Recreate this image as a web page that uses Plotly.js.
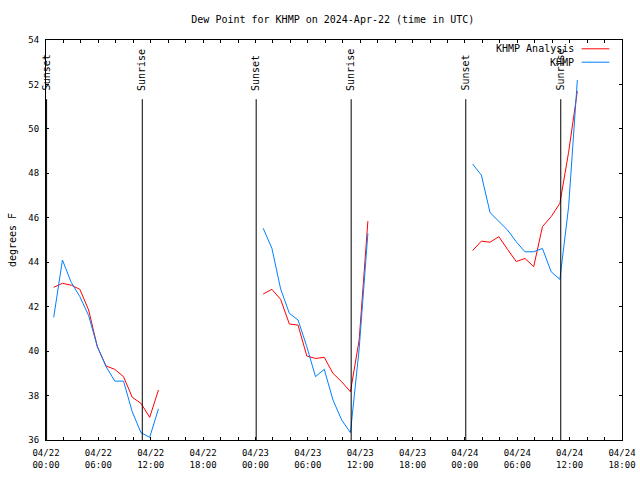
<!DOCTYPE html>
<html>
<head>
<meta charset="utf-8">
<script src="https://cdn.plot.ly/plotly-3.0.1.min.js"></script>
<style>html,body{margin:0;padding:0;background:#fff;}#chart{width:640px;height:480px;}</style>
</head>
<body>
<div id="chart"></div>
<script>
// Observation times (UTC); null entries break the lines between days
var times = [
  '2024-04-22 00:53','2024-04-22 01:53','2024-04-22 02:53','2024-04-22 03:53','2024-04-22 04:53',
  '2024-04-22 05:53','2024-04-22 06:53','2024-04-22 07:53','2024-04-22 08:53','2024-04-22 09:53',
  '2024-04-22 10:53','2024-04-22 11:53','2024-04-22 12:53',
  '2024-04-22 18:00',
  '2024-04-23 00:53','2024-04-23 01:53','2024-04-23 02:53','2024-04-23 03:53','2024-04-23 04:53',
  '2024-04-23 05:53','2024-04-23 06:53','2024-04-23 07:53','2024-04-23 08:53','2024-04-23 09:53',
  '2024-04-23 10:53','2024-04-23 11:53','2024-04-23 12:53',
  '2024-04-23 18:00',
  '2024-04-24 00:53','2024-04-24 01:53','2024-04-24 02:53','2024-04-24 03:53','2024-04-24 04:53',
  '2024-04-24 05:53','2024-04-24 06:53','2024-04-24 07:53','2024-04-24 08:53','2024-04-24 09:53',
  '2024-04-24 10:53','2024-04-24 11:53','2024-04-24 12:53'
];
var analysisDewpt = [
  42.87, 43.05, 42.97, 42.78, 41.85, 40.2, 39.33, 39.18, 38.85, 37.92, 37.65, 37.02, 38.25,
  null,
  42.57, 42.78, 42.33, 41.22, 41.17, 39.78, 39.67, 39.72, 39.0, 38.62, 38.17, 40.5, 45.85,
  null,
  44.52, 44.95, 44.9, 45.15, 44.58, 44.03, 44.17, 43.8, 45.6, 46.05, 46.65, 48.95, 51.7
];
var obsDewpt = [
  41.52, 44.1, 43.1, 42.45, 41.6, 40.2, 39.3, 38.65, 38.65, 37.27, 36.33, 36.12, 37.4,
  null,
  45.53, 44.63, 42.8, 41.7, 41.4, 40.2, 38.85, 39.18, 37.8, 36.9, 36.33, 40.1, 45.3,
  null,
  48.42, 47.92, 46.23, 45.83, 45.45, 44.92, 44.47, 44.47, 44.62, 43.57, 43.23, 46.5, 52.2
];
var seriesNames = ['KHMP Analysis', 'KHMP'];
var sunEvents = ['2024-04-22 00:04','2024-04-22 11:02','2024-04-23 00:05','2024-04-23 10:58','2024-04-24 00:06','2024-04-24 10:59'];
var sunLabels = ['Sunset','Sunrise','Sunset','Sunrise','Sunset','Sunrise'];

var FONT = 'DejaVu Sans Mono, Liberation Mono, monospace';
var RED = '#ff0000', BLUE = 'rgb(0,128,255)';

var traces = [
  {x: times, y: analysisDewpt, name: seriesNames[0], type: 'scatter', mode: 'lines',
   line: {color: RED, width: 1}, connectgaps: false, showlegend: false},
  {x: times, y: obsDewpt, name: seriesNames[1], type: 'scatter', mode: 'lines',
   line: {color: BLUE, width: 1}, connectgaps: false, showlegend: false}
];

var shapes = [], annotations = [];
for (var i = 0; i < sunEvents.length; i++) {
  shapes.push({type: 'line', xref: 'x', yref: 'paper', x0: sunEvents[i], x1: sunEvents[i],
    y0: 0, y1: 0.852, line: {color: '#000', width: 1}});
  annotations.push({xref: 'x', yref: 'paper', x: sunEvents[i], y: 0.868, text: sunLabels[i],
    textangle: -90, showarrow: false, xanchor: 'center', yanchor: 'bottom',
    font: {family: FONT, size: 10, color: '#000'}});
}
// manual legend (gnuplot style: text left of sample line)
var legendColors = [RED, BLUE];
for (var j = 0; j < seriesNames.length; j++) {
  var ly = 0.978 - j * 0.0335;
  annotations.push({xref: 'paper', yref: 'paper', x: 0.92, y: ly, text: seriesNames[j],
    showarrow: false, xanchor: 'right', yanchor: 'middle',
    font: {family: FONT, size: 10, color: '#000'}});
  shapes.push({type: 'line', xref: 'paper', yref: 'paper', x0: 0.930, x1: 0.978, y0: ly, y1: ly,
    line: {color: legendColors[j], width: 1}});
}

var layout = {
  width: 640, height: 480,
  margin: {l: 46, r: 18, t: 40, b: 40, pad: 0},
  paper_bgcolor: '#fff', plot_bgcolor: '#fff',
  title: {text: 'Dew Point for KHMP on 2024-Apr-22 (time in UTC)', x: 0.52, xanchor: 'center',
    y: 0.96, yanchor: 'middle', font: {family: FONT, size: 10, color: '#000'}},
  showlegend: false,
  xaxis: {
    type: 'date', range: ['2024-04-22 00:00', '2024-04-24 18:00'],
    dtick: 6 * 3600 * 1000, tick0: '2024-04-22 00:00', tickformat: '%m/%d<br>%H:%M',
    ticks: 'inside', ticklen: 3, tickcolor: '#000', tickwidth: 1,
    minor: {dtick: 2 * 3600 * 1000, ticks: 'inside', ticklen: 3, tickcolor: '#000', tickwidth: 1},
    showline: true, linecolor: '#000', linewidth: 1, mirror: 'allticks',
    showgrid: false, zeroline: false,
    tickfont: {family: FONT, size: 9, color: '#000'}, ticklabelstandoff: 4
  },
  yaxis: {
    range: [36, 54], dtick: 2, tick0: 36,
    ticks: 'inside', ticklen: 3, tickcolor: '#000', tickwidth: 1,
    showline: true, linecolor: '#000', linewidth: 1, mirror: 'allticks',
    showgrid: false, zeroline: false,
    tickfont: {family: FONT, size: 9, color: '#000'}, ticklabelstandoff: 4,
    title: {text: 'degrees F', standoff: 9, font: {family: FONT, size: 10, color: '#000'}}
  },
  shapes: shapes,
  annotations: annotations
};

Plotly.newPlot('chart', traces, layout, {displayModeBar: false, staticPlot: true});
</script>
</body>
</html>
